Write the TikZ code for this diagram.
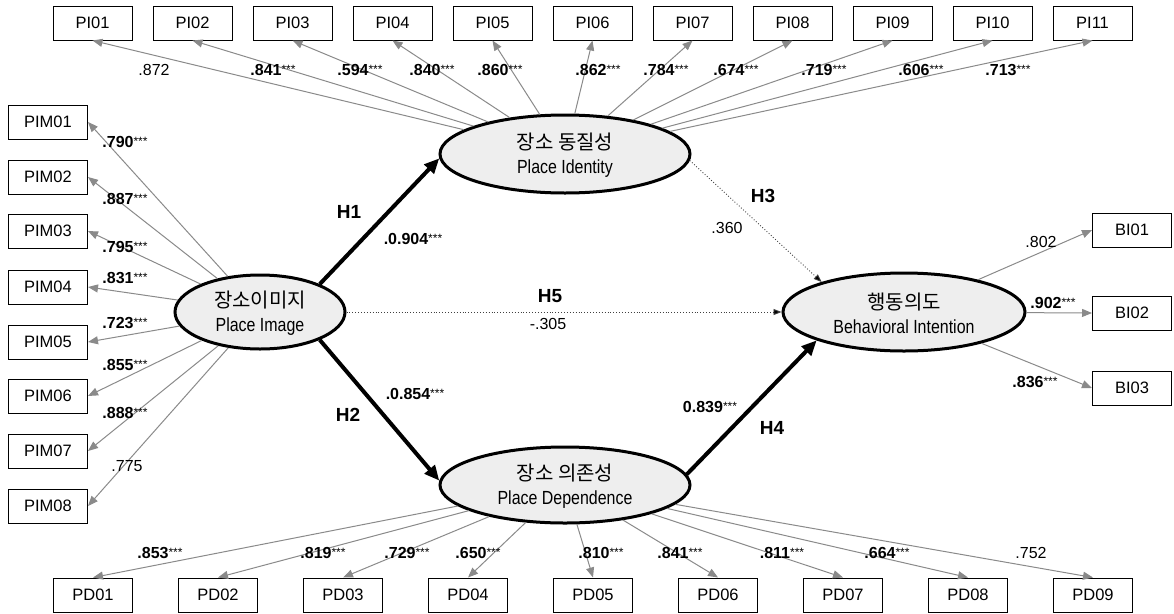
\documentclass[tikz,border=0pt]{standalone}
\usepackage{fontspec}
\setmainfont{Liberation Sans}
\newfontfamily\kr{Noto Sans CJK KR}
\usetikzlibrary{shapes.geometric,arrows.meta}
\definecolor{lgray}{RGB}{138,138,138}
\definecolor{efill}{RGB}{238,238,238}
\newcommand{\sig}[1]{\textbf{#1}\raisebox{2pt}{\fontsize{12}{12}\selectfont ***}}
\newcommand{\lat}[1]{\scalebox{0.84}[1]{#1}}
\begin{document}
\begin{tikzpicture}[x=1pt,y=-1pt,
 box/.style={draw, line width=1pt, rectangle, minimum width=79pt, minimum height=34pt, inner sep=0pt, font=\fontsize{16.5}{16.5}\selectfont},
 lv/.style={draw, line width=3pt, ellipse, fill=efill, inner sep=0pt},
 lvt/.style={align=center, inner sep=0pt, font=\fontsize{19}{24}\selectfont},
 load/.style={draw=lgray, line width=1pt, -{Triangle[length=10pt,width=8pt,fill=lgray]}},
 strong/.style={line width=4pt, -{Triangle[length=15pt,width=13pt]}},
 weak/.style={dotted, line width=0.9pt, draw=black!75, -{Triangle[length=8pt,width=6pt,fill=black]}},
 num/.style={font=\fontsize{16}{16}\selectfont, inner sep=0pt},
 hyp/.style={font=\fontsize{19}{19}\selectfont\bfseries, inner sep=0pt}]
\useasboundingbox (0,0) rectangle (1174,613);

% latent variables
\node[lv, minimum width=170pt, minimum height=74pt] (PIm) at (260,312) {};
\node[lv, minimum width=250pt, minimum height=78pt] (PId) at (565,154) {};
\node[lv, minimum width=250pt, minimum height=76pt] (PDe) at (565,485) {};
\node[lv, minimum width=242pt, minimum height=78pt] (BIn) at (904,312) {};
\node[lvt] (PImt) at ([yshift=-1.5pt]PIm.center) {{\kr\fontsize{20}{24}\selectfont 장소이미지}\\\lat{Place Image}};
\node[lvt] (PIdt) at ([yshift=-1.5pt]PId.center) {{\kr\fontsize{20}{24}\selectfont 장소 동질성}\\\lat{Place Identity}};
\node[lvt] (PDet) at ([yshift=-1.5pt]PDe.center) {{\kr\fontsize{20}{24}\selectfont 장소 의존성}\\\lat{Place Dependence}};
\node[lvt] (BInt) at ([yshift=-1.5pt]BIn.center) {{\kr\fontsize{20}{24}\selectfont 행동의도}\\\lat{Behavioral Intention}};

% indicator boxes
\foreach \n [count=\i] in {01,02,03,04,05,06,07,08,09,10,11}
  \node[box] (PI\n) at ({92.5+100*(\i-1)},23) {PI\n};
\foreach \n/\y in {01/122,02/177,03/231,04/287,05/342,06/396,07/451,08/506}
  \node[box] (PIM\n) at (48,\y) {PIM\n};
\foreach \n [count=\i] in {01,02,03,04,05,06,07,08,09}
  \node[box] (PD\n) at ({93+125*(\i-1)},595) {PD\n};
\foreach \n/\y in {01/230,02/313,03/388}
  \node[box] (BI\n) at (1132,\y) {BI\n};

% loadings
\foreach \n in {01,02,03,04,05,06,07,08,09,10,11}
  \draw[load] (PId) -- (PI\n.south);
\foreach \n in {01,02,03,04,05,06,07,08}
  \draw[load] (PIm) -- (PIM\n.east);
\foreach \n in {01,02,03,04,05,06,07,08,09}
  \draw[load] (PDe) -- (PD\n.north);
\foreach \n in {01,02,03}
  \draw[load] (BIn) -- (BI\n.west);

% structural paths
\draw[strong] (PIm.25) -- (PId.182);
\draw[strong] (PIm.-25) -- (PDe.178);
\draw[strong] (PDe.5) -- (BIn.198);
\draw[weak] (PId.-3) -- (BIn.160);
\draw[weak] (PIm.east) -- (BIn.west);

% hypothesis labels
\node[hyp] (H1) at (349,212) {H1};
\node[hyp] (H2) at (348,415) {H2};
\node[hyp] (H3) at (763,196) {H3};
\node[hyp] (H4) at (772,428) {H4};
\node[hyp] (H5) at (550,296) {H5};
\node[num] (c1) at (413,239) {\sig{.0.904}};
\node[num] (c2) at (415,394) {\sig{.0.854}};
\node[num] (c3) at (727,228) {.360};
\node[num] (c4) at (710,407) {\sig{0.839}};
\node[num] (c5) at (548,324) {-.305};

% PI loadings
\node[num] (a01) at (154,70) {.872};
\node[num] (a02) at (273,70) {\sig{.841}};
\node[num] (a03) at (360,70) {\sig{.594}};
\node[num] (a04) at (432,70) {\sig{.840}};
\node[num] (a05) at (500,70) {\sig{.860}};
\node[num] (a06) at (598,70) {\sig{.862}};
\node[num] (a07) at (666,70) {\sig{.784}};
\node[num] (a08) at (736,70) {\sig{.674}};
\node[num] (a09) at (824,70) {\sig{.719}};
\node[num] (a10) at (921,70) {\sig{.606}};
\node[num] (a11) at (1008,70) {\sig{.713}};

% PIM loadings
\node[num] (b01) at (125,142) {\sig{.790}};
\node[num] (b02) at (125,199) {\sig{.887}};
\node[num] (b03) at (125,247) {\sig{.795}};
\node[num] (b04) at (125,278) {\sig{.831}};
\node[num] (b05) at (125,323) {\sig{.723}};
\node[num] (b06) at (125,365) {\sig{.855}};
\node[num] (b07) at (125,413) {\sig{.888}};
\node[num] (b08) at (127,466) {.775};

% PD loadings
\node[num] (d01) at (160,553) {\sig{.853}};
\node[num] (d02) at (323,553) {\sig{.819}};
\node[num] (d03) at (407,553) {\sig{.729}};
\node[num] (d04) at (478,553) {\sig{.650}};
\node[num] (d05) at (601,553) {\sig{.810}};
\node[num] (d06) at (680,553) {\sig{.841}};
\node[num] (d07) at (782,553) {\sig{.811}};
\node[num] (d08) at (887,553) {\sig{.664}};
\node[num] (d09) at (1031,553) {.752};

% BI loadings
\node[num] (e01) at (1041,242) {.802};
\node[num] (e02) at (1053,303) {\sig{.902}};
\node[num] (e03) at (1035,382) {\sig{.836}};
\end{tikzpicture}
\end{document}
